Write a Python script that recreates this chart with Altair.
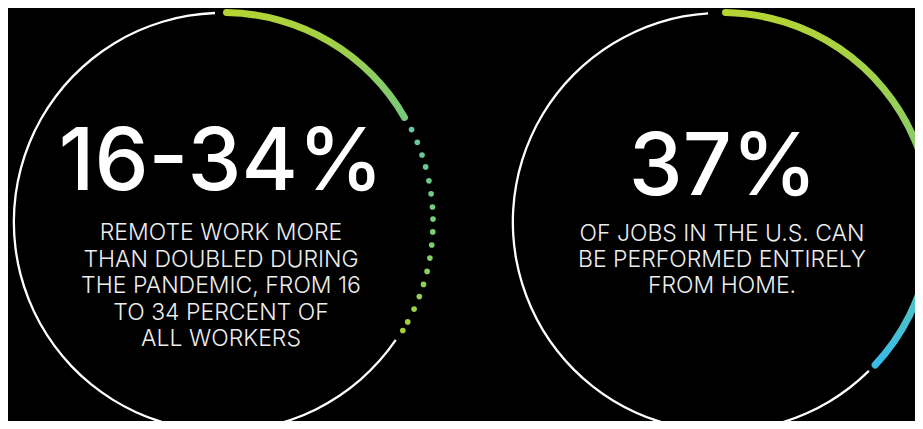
import math
import altair as alt
import pandas as pd

# ---------------- data ----------------
headlines = ["16-34%", "37%"]
descriptions = [
    "REMOTE WORK MORE\nTHAN DOUBLED DURING\nTHE PANDEMIC, FROM 16\nTO 34 PERCENT OF\nALL WORKERS",
    "OF JOBS IN THE U.S. CAN\nBE PERFORMED ENTIRELY\nFROM HOME.",
]
# arc extents, degrees clockwise from 12 o'clock
left_solid = [0.0, 61.0]
right_solid = [0.0, 134.0]
left_track = [124.3, 357.8]
right_track = [135.4, 356.2]
left_dot_angles = [63.9, 67.7, 71.4, 74.8, 78.7, 82.3, 85.9, 89.2, 92.7,
                   96.3, 99.9, 103.6, 107.3, 110.8, 114.5, 118.4, 121.1]

# ---------------- layout ----------------
W, H = 907, 413
LCX, LCY = 215, 214
RCX, RCY = 714, 214
R_TRACK_IN, R_TRACK_OUT = 208.0, 210.3
R_ARC_IN, R_ARC_OUT = 206.0, 213.0
R_DOT = 210.0

theta_scale = alt.Scale(domain=[0, 360], range=[0, 2 * math.pi])


def arc_layer(extent, cx, cy, inner, outer, fill, corner=0):
    df = pd.DataFrame({"start": [extent[0]], "end": [extent[1]]})
    return alt.Chart(df).mark_arc(
        innerRadius=inner, outerRadius=outer, cornerRadius=corner, fill=fill
    ).encode(
        theta=alt.Theta("start:Q", scale=theta_scale, stack=None),
        theta2="end:Q",
        x=alt.value(cx),
        y=alt.value(cy),
    )


left_grad = alt.Gradient(
    gradient="linear", x1=0, y1=0, x2=1, y2=1,
    stops=[alt.GradientStop(color="#b6d432", offset=0),
           alt.GradientStop(color="#a2d045", offset=0.45),
           alt.GradientStop(color="#76c97f", offset=1)],
)
right_grad = alt.Gradient(
    gradient="linear", x1=0, y1=0, x2=0, y2=1,
    stops=[alt.GradientStop(color="#b6d432", offset=0),
           alt.GradientStop(color="#93ce5c", offset=0.3),
           alt.GradientStop(color="#76c982", offset=0.55),
           alt.GradientStop(color="#52c3bd", offset=0.78),
           alt.GradientStop(color="#38bbea", offset=1)],
)

left_track_l = arc_layer(left_track, LCX, LCY, R_TRACK_IN, R_TRACK_OUT, "#ffffff")
right_track_l = arc_layer(right_track, RCX, RCY, R_TRACK_IN, R_TRACK_OUT, "#ffffff")
left_arc_l = arc_layer(left_solid, LCX, LCY, R_ARC_IN, R_ARC_OUT, left_grad, corner=3.5)
right_arc_l = arc_layer(right_solid, RCX, RCY, R_ARC_IN, R_ARC_OUT, right_grad, corner=3.5)

dots = alt.Chart(pd.DataFrame({"angle": left_dot_angles})).transform_calculate(
    px=f"{LCX} + {R_DOT} * sin(datum.angle * PI / 180)",
    py=f"{LCY} - {R_DOT} * cos(datum.angle * PI / 180)",
).mark_circle(size=32, opacity=1).encode(
    x=alt.X("px:Q", scale=None, axis=None),
    y=alt.Y("py:Q", scale=None, axis=None),
    color=alt.Color("angle:Q", legend=None,
                    scale=alt.Scale(domain=[min(left_dot_angles), max(left_dot_angles)],
                                    range=["#68c6a0", "#a9d03a"])),
)


def text_layer(txt, cx, y, size, weight, color, font, line_height=None):
    df = pd.DataFrame({"t": [txt]})
    kw = dict(font=font, fontSize=size, fontWeight=weight, color=color,
              align="center", baseline="alphabetic")
    if line_height is not None:
        kw.update(lineBreak="\n", lineHeight=line_height)
    return alt.Chart(df).mark_text(**kw).encode(
        text="t:N", x=alt.value(cx), y=alt.value(y))


HEAD_FONT = "Inter"
BODY_FONT = "Inter"
texts = [
    text_layer(headlines[0], 213, 182, 86, 500, "#ffffff", HEAD_FONT),
    text_layer(descriptions[0], 213, 232, 23, 300, "#ededed", BODY_FONT, 26.5),
    text_layer(headlines[1], 715, 187, 86, 500, "#ffffff", HEAD_FONT),
    text_layer(descriptions[1], 714, 233, 23, 300, "#ededed", BODY_FONT, 26.0),
]

chart = alt.layer(
    left_track_l, right_track_l, left_arc_l, right_arc_l, dots, *texts
).properties(
    width=W, height=H, padding=0, background="#000000",
    autosize=alt.AutoSizeParams(type="none"),
).configure_view(strokeWidth=0)

chart.save("out.html", embed_options={"renderer": "svg", "actions": False})
